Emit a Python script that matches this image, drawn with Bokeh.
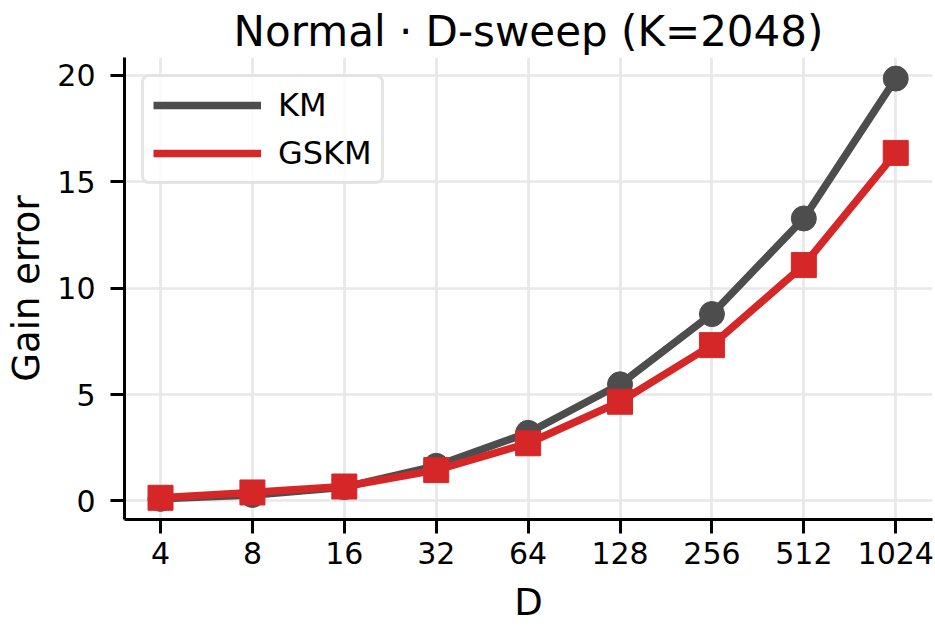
from bokeh.plotting import figure
from bokeh.models import Range1d, FixedTicker, BasicTickFormatter, Legend, LegendItem
from bokeh.embed import file_html
from bokeh.resources import INLINE

# Sweep over dimension D at fixed K=2048
D = [4, 8, 16, 32, 64, 128, 256, 512, 1024]
km = [0.10, 0.28, 0.65, 1.65, 3.20, 5.48, 8.78, 13.27, 19.84]
gskm = [0.15, 0.40, 0.68, 1.45, 2.71, 4.66, 7.32, 11.08, 16.35]
y_ticks = [0, 5, 10, 15, 20]

FONT = "DejaVu Sans"
KM_COLOR = "#4d4d4d"
GSKM_COLOR = "#d62728"

p = figure(
    width=935, height=626,
    x_axis_type="log",
    x_range=Range1d(D[0] / 2 ** 0.392, D[-1] * 2 ** 0.40),
    y_range=Range1d(-0.87, 20.83),
    output_backend="svg", toolbar_location=None,
    title="Normal · D-sweep (K=2048)",
    min_border_left=124, min_border_right=3,
    min_border_top=57, min_border_bottom=107,
)

p.title.text_font = FONT
p.title.text_font_size = "42px"
p.title.text_font_style = "normal"
p.title.align = "center"
p.title.text_color = "black"
p.title.standoff = 4

p.outline_line_color = None
p.background_fill_color = "white"
p.border_fill_color = "white"

for ax in (p.xaxis[0], p.yaxis[0]):
    ax.axis_line_color = "black"
    ax.axis_line_width = 3
    ax.major_tick_line_color = "black"
    ax.major_tick_line_width = 3
    ax.major_tick_out = 14
    ax.major_tick_in = 0
    ax.minor_tick_line_color = None
    ax.major_label_text_font = FONT
    ax.major_label_text_font_size = "30px"
    ax.major_label_text_color = "black"
    ax.axis_label_text_font = FONT
    ax.axis_label_text_font_size = "37px"
    ax.axis_label_text_font_style = "normal"
    ax.axis_label_text_color = "black"

p.xaxis.ticker = FixedTicker(ticks=D)
p.xaxis.formatter = BasicTickFormatter()
p.xaxis.axis_label = "D"
p.xaxis.major_label_standoff = 8
p.xaxis.axis_label_standoff = 14

p.yaxis.ticker = FixedTicker(ticks=y_ticks)
p.yaxis.axis_label = "Gain error"
p.yaxis.major_label_standoff = 15
p.yaxis.axis_label_standoff = 6

for g in (p.xgrid[0], p.ygrid[0]):
    g.grid_line_color = "#e8e8e8"
    g.grid_line_width = 2.7
p.xgrid.ticker = FixedTicker(ticks=D)
p.ygrid.ticker = FixedTicker(ticks=y_ticks)

km_line = p.line(D, km, line_color=KM_COLOR, line_width=7.5)
p.scatter(D, km, marker="circle", size=25, fill_color=KM_COLOR, line_color=KM_COLOR)
gskm_line = p.line(D, gskm, line_color=GSKM_COLOR, line_width=7.5)
p.scatter(D, gskm, marker="square", size=25, fill_color=GSKM_COLOR, line_color=GSKM_COLOR)

legend = Legend(
    items=[LegendItem(label="KM", renderers=[km_line]),
           LegendItem(label="GSKM", renderers=[gskm_line])],
    location="top_left",
    margin=17,
    padding=9,
    spacing=10,
    glyph_width=108,
    glyph_height=38,
    label_standoff=17,
    label_text_font=FONT,
    label_text_font_size="32px",
    label_text_color="black",
    label_height=38,
    border_line_color="#cccccc",
    border_line_width=3,
    border_radius=8,
    background_fill_color="white",
    background_fill_alpha=0.8,
)
p.add_layout(legend, "center")

open("out.html", "w").write(file_html(p, INLINE))
